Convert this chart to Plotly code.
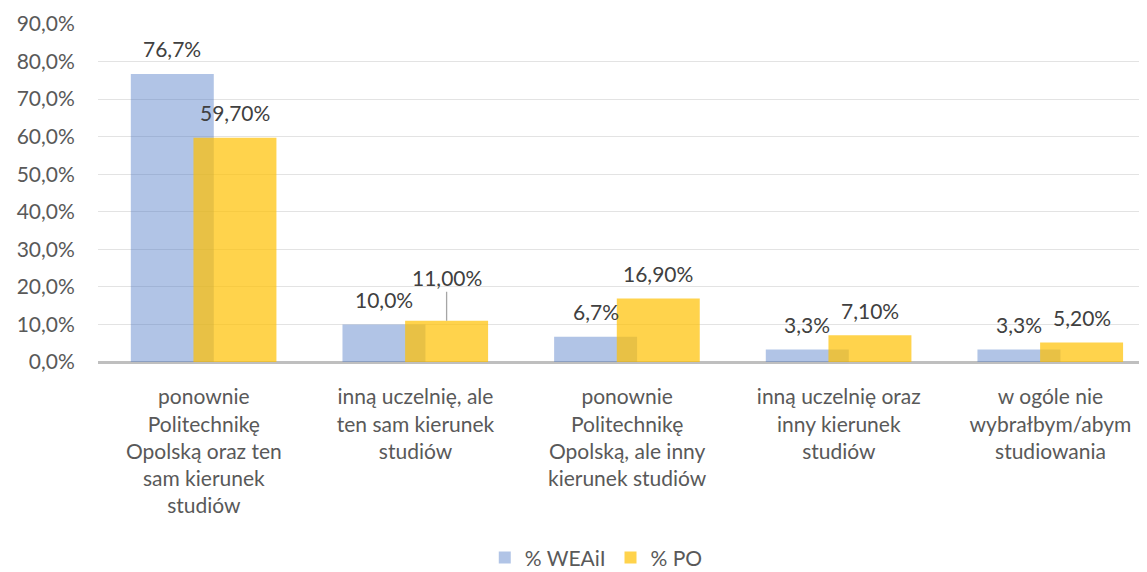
import plotly.graph_objects as go

categories = [
    "ponownie<br>Politechnikę<br>Opolską oraz ten<br>sam kierunek<br>studiów",
    "inną uczelnię, ale<br>ten sam kierunek<br>studiów",
    "ponownie<br>Politechnikę<br>Opolską, ale inny<br>kierunek studiów",
    "inną uczelnię oraz<br>inny kierunek<br>studiów",
    "w ogóle nie<br>wybrałbym/abym<br>studiowania",
]
weaii = [0.767, 0.100, 0.067, 0.033, 0.033]
po = [0.597, 0.110, 0.169, 0.071, 0.052]
weaii_labels = ["76,7%", "10,0%", "6,7%", "3,3%", "3,3%"]
po_labels = ["59,70%", "11,00%", "16,90%", "7,10%", "5,20%"]
y_ticks = [0, 0.1, 0.2, 0.3, 0.4, 0.5, 0.6, 0.7, 0.8, 0.9]
y_tick_text = ["0,0%", "10,0%", "20,0%", "30,0%", "40,0%", "50,0%", "60,0%", "70,0%", "80,0%", "90,0%"]

FONT = "Lato"
FS = 21
BAR_W = 0.392
BLUE_C = -0.149
YEL_C = 0.147

fig = go.Figure()
fig.add_trace(go.Bar(
    x=categories, y=weaii, name="% WEAiI",
    marker=dict(color="rgba(68,114,196,0.42)", line=dict(width=0)),
    width=BAR_W, offset=BLUE_C - BAR_W / 2,
))
fig.add_trace(go.Bar(
    x=categories, y=po, name="% PO",
    marker=dict(color="rgba(255,192,0,0.70)", line=dict(width=0)),
    width=BAR_W, offset=YEL_C - BAR_W / 2,
))

lab_font = dict(family=FONT, size=FS, color="#404040")
ann = []
for i, (v, t) in enumerate(zip(weaii, weaii_labels)):
    ann.append(dict(x=i + BLUE_C, y=v, xref="x", yref="y", text=t, showarrow=False,
                    yanchor="middle", yshift=25, font=lab_font))
for i, (v, t) in enumerate(zip(po, po_labels)):
    if i == 1:
        ann.append(dict(x=i + YEL_C, y=v, xref="x", yref="y", text=t, showarrow=True,
                        arrowhead=0, arrowwidth=1.3, arrowcolor="#A6A6A6", ax=0, ay=-43,
                        font=lab_font))
    else:
        ann.append(dict(x=i + YEL_C, y=v, xref="x", yref="y", text=t, showarrow=False,
                        yanchor="middle", yshift=25, font=lab_font))

fig.update_layout(
    width=1139, height=564,
    margin=dict(l=90, r=0, t=16, b=210, autoexpand=False),
    barmode="overlay",
    plot_bgcolor="white", paper_bgcolor="white",
    font=dict(family=FONT, size=FS, color="#595959"),
    annotations=ann,
    showlegend=True,
    legend=dict(orientation="h", x=0.475, xanchor="center", y=-0.64, yanchor="bottom",
                font=dict(family=FONT, size=FS, color="#595959"), itemwidth=30,
                traceorder="normal"),
    xaxis=dict(type="category", range=[-0.5, 4.456], showgrid=False, showline=False,
               automargin=False,
               ticks="outside", ticklen=16, tickcolor="rgba(0,0,0,0)",
               tickfont=dict(family=FONT, size=FS, color="#595959")),
    yaxis=dict(range=[0, 0.9], tickvals=y_ticks, ticktext=y_tick_text,
               automargin=False,
               showgrid=True, gridcolor="#E3E3E3", gridwidth=1,
               zeroline=True, zerolinecolor="#BFBFBF", zerolinewidth=3,
               ticks="outside", ticklen=18, tickcolor="rgba(0,0,0,0)",
               tickfont=dict(family=FONT, size=FS, color="#595959")),
)

fig.write_html("out.html")
